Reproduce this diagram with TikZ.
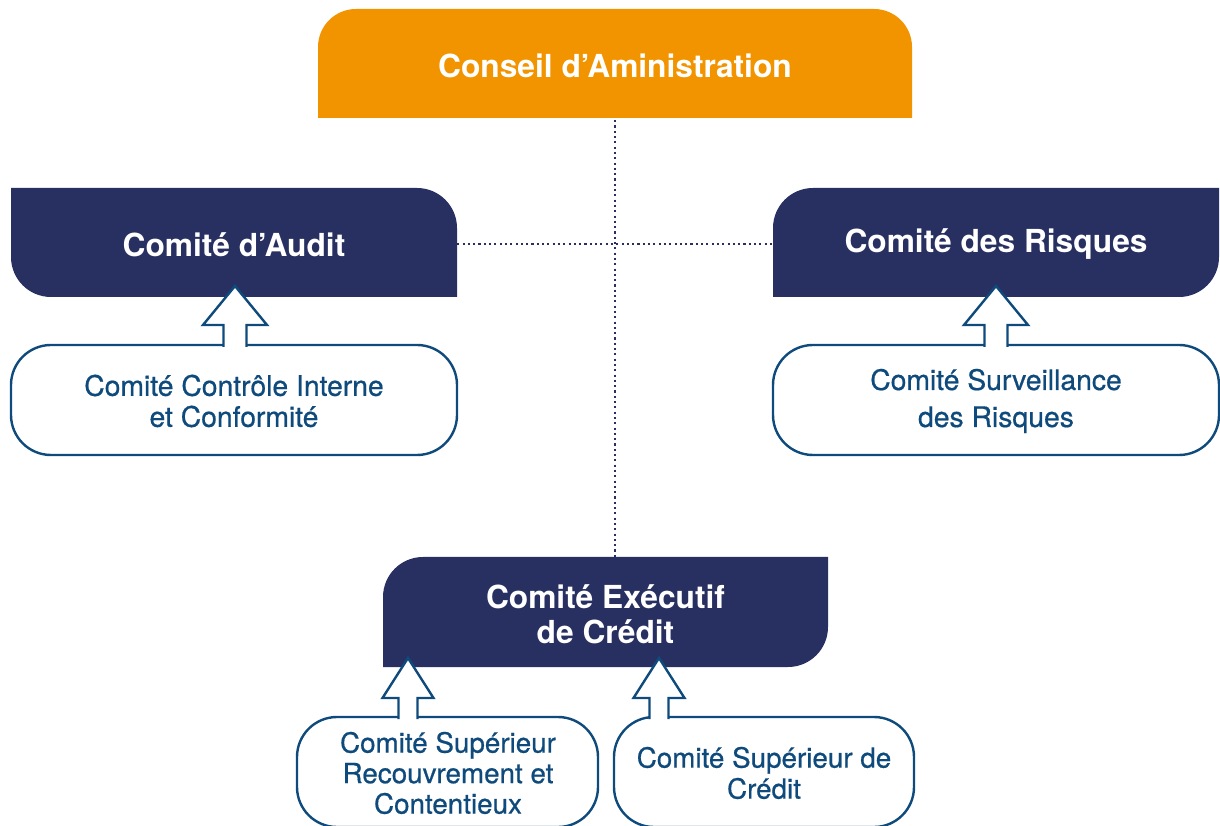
\documentclass[tikz,border=0pt]{standalone}
\usepackage{fontspec}
\setmainfont{TeX Gyre Heros}
\newfontfamily\medfont[FakeBold=0.6]{TeX Gyre Heros}
\definecolor{orgA}{HTML}{F29400}
\definecolor{navyA}{HTML}{283062}
\definecolor{lineA}{HTML}{0F4A7C}
\tikzset{
  headtxt/.style={text=white, font=\bfseries\fontsize{31.7}{35}\selectfont, align=center, inner sep=0pt},
  subtxt/.style={text=lineA, align=center, inner sep=0pt},
  subbox/.style={draw=lineA, line width=2.4pt, fill=white, rounded corners=40pt},
  dotline/.style={navyA, line width=2.3pt, dash pattern=on 2.1pt off 3.2pt, line cap=butt},
  arrowline/.style={draw=lineA, line width=2.4pt, line join=miter},
}
\newcommand\upArrowShape[6]{% cx, tipY, shoulderY, headhalf, shafthalf, bottomY
  \fill[white] (#1-#5,#6) -- (#1-#5,#3) -- (#1-#4,#3) -- (#1,#2) -- (#1+#4,#3) -- (#1+#5,#3) -- (#1+#5,#6) -- cycle;
  \draw[arrowline] (#1-#5,#6) -- (#1-#5,#3) -- (#1-#4,#3) -- (#1,#2) -- (#1+#4,#3) -- (#1+#5,#3) -- (#1+#5,#6);
}
\begin{document}
\begin{tikzpicture}[x=1pt,y=1pt]
\useasboundingbox (0,0) rectangle (1220,825);
\begin{scope}
\clip (0,0) rectangle (1220,825);
% top box
\fill[orgA] (318,707) -- (318,778) arc[start angle=180,end angle=90,radius=38pt] -- (874,816) arc[start angle=90,end angle=0,radius=38pt] -- (912,707) -- cycle;
% audit
\fill[navyA] (11,637) -- (417,637) arc[start angle=90,end angle=0,radius=40pt] -- (457,528) -- (51,528) arc[start angle=270,end angle=180,radius=40pt] -- cycle;
% risques
\fill[navyA] (773,528) -- (773,597) arc[start angle=180,end angle=90,radius=40pt] -- (1219,637) -- (1219,568) arc[start angle=0,end angle=-90,radius=40pt] -- cycle;
% executif
\fill[navyA] (383,158) -- (383,228) arc[start angle=180,end angle=90,radius=40pt] -- (828,268) -- (828,198) arc[start angle=0,end angle=-90,radius=40pt] -- cycle;
% white boxes
\draw[subbox] (11,370) rectangle (457,480);
\draw[subbox] (773,370) rectangle (1219,480);
\draw[subbox] (297,-2) rectangle (598,108);
\draw[subbox] (614,-2) rectangle (914,108);
% arrows
\upArrowShape{235}{539}{500}{32}{11.5}{478}
\upArrowShape{996}{539}{500}{32}{11.5}{478}
\upArrowShape{408}{167}{127}{25.5}{9.5}{106}
\upArrowShape{659}{167}{127}{25.5}{9.5}{106}
\end{scope}
% text nodes
\node[headtxt, minimum width=594pt, minimum height=109pt] (ca) at (615,759.5) {Conseil d’Aministration};
\node[headtxt, minimum width=446pt, minimum height=109pt] (audit) at (234,580.5) {Comité d’Audit};
\node[headtxt, minimum width=446pt, minimum height=109pt] (risk) at (996,580.5) {Comité des Risques};
\node[headtxt, minimum width=445pt, minimum height=110pt] (exec) at (605.5,211) {Comité Exécutif\\de Crédit};
\node[subtxt, font=\medfont\fontsize{28.3}{31}\selectfont] (ci) at (234,424) {Comité Contrôle Interne\\et Conformité};
\node[subtxt, font=\medfont\fontsize{28.3}{37}\selectfont] (surv) at (996,424) {Comité Surveillance\\des Risques};
\node[subtxt, font=\medfont\fontsize{27.8}{30.5}\selectfont] (csr) at (448,52) {Comité Supérieur\\Recouvrement et\\Contentieux};
\node[subtxt, font=\medfont\fontsize{27.8}{31}\selectfont] (csc) at (764,52) {Comité Supérieur de\\Crédit};
% dotted connectors
\draw[dotline] (ca.south -| 615,0) -- (exec.north -| 615,0);
\draw[dotline] (audit.east |- 0,581) -- (risk.west |- 0,581);
\end{tikzpicture}
\end{document}
